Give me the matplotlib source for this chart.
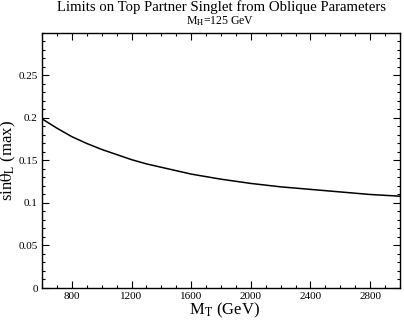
import matplotlib
matplotlib.use("Agg")
import matplotlib.pyplot as plt
from matplotlib.ticker import MultipleLocator, FixedLocator

mass_gev = [600, 700, 800, 900, 1000, 1100, 1200, 1300, 1400, 1500, 1600, 1700, 1800,
            1900, 2000, 2100, 2200, 2300, 2400, 2500, 2600, 2700, 2800, 2900, 3000]
sin_theta_max = [0.199, 0.188, 0.178, 0.170, 0.163, 0.157, 0.151, 0.146, 0.142, 0.138,
                 0.134, 0.131, 0.128, 0.1255, 0.123, 0.121, 0.119, 0.1175, 0.116, 0.1145,
                 0.113, 0.1115, 0.110, 0.109, 0.108]
x_ticks = [800, 1200, 1600, 2000, 2400, 2800]
y_ticks = [0, 0.05, 0.1, 0.15, 0.2, 0.25]
y_tick_labels = ["0", "0.05", "0.1", "0.15", "0.2", "0.25"]

plt.rcParams['font.family'] = ['Liberation Serif', 'DejaVu Serif']
plt.rcParams['mathtext.fontset'] = 'stix'

fig = plt.figure(figsize=(4.04, 3.2), dpi=100)
ax = fig.add_axes([0.104, 0.1, 0.886, 0.797])

ax.plot(mass_gev, sin_theta_max, color='black', lw=1.1)

ax.set_xlim(600, 3000)
ax.set_ylim(0, 0.3)
ax.xaxis.set_major_locator(FixedLocator(x_ticks))
ax.xaxis.set_minor_locator(MultipleLocator(100))
ax.yaxis.set_major_locator(FixedLocator(y_ticks))
ax.set_yticklabels(y_tick_labels)
ax.yaxis.set_minor_locator(MultipleLocator(0.01))
ax.tick_params(which='both', direction='in', top=True, right=True, labelsize=8, width=0.8, pad=3)
ax.tick_params(which='major', length=5)
ax.tick_params(which='minor', length=2.5)
for s in ax.spines.values():
    s.set_linewidth(1.0)

ax.set_xlabel(r"M$_{\mathrm{T}}$ (GeV)", fontsize=12)
ax.xaxis.set_label_coords(0.511, -0.052)
ax.set_ylabel(r"sin$\mathrm{\theta}_{\mathrm{L}}$ (max)", fontsize=12)
ax.yaxis.set_label_coords(-0.066, 0.5)

fig.text(0.548, 0.977, "Limits on Top Partner Singlet from Oblique Parameters", ha='center', va='center', fontsize=10.6)
fig.text(0.544, 0.934, r"M$_{\mathrm{H}}$=125 GeV", ha='center', va='center', fontsize=8.5)

fig.savefig("out.png", dpi=100)
